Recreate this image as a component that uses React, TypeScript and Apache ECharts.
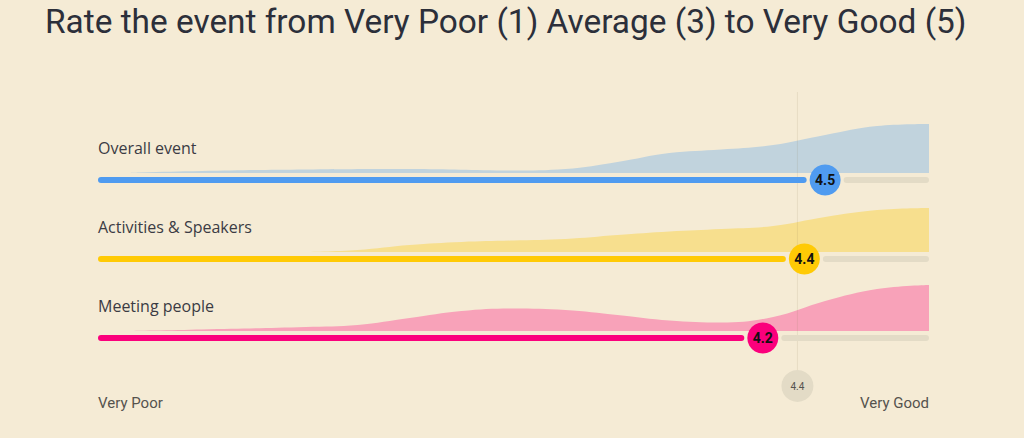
import React, { useEffect, useRef } from 'react';
import * as echarts from 'echarts';

const TITLE = 'Rate the event from Very Poor (1) Average (3) to Very Good (5)';
const CATEGORIES = ['Overall event', 'Activities & Speakers', 'Meeting people'];
const AVERAGES = [4.5, 4.4, 4.2];
const SCALE_LABELS = ['Very Poor', 'Very Good'];
const SCALE_MIN = 1;
const SCALE_MAX = 5;

// distribution of answers along the 1..5 scale: [score, relative density]
const OVERALL_DIST = [
  [1.15, 0], [1.2, 0.5], [1.5, 2], [2.0, 3.5], [2.5, 4], [3.0, 2.5], [3.25, 4], [3.5, 11],
  [3.75, 20], [4.0, 23.5], [4.25, 28], [4.5, 38], [4.75, 47], [5.0, 49],
];
const ACTIVITIES_DIST = [
  [2.0, 0], [2.25, 2], [2.5, 7], [2.75, 10], [3.0, 11.5], [3.25, 13], [3.5, 17],
  [3.75, 20.5], [4.0, 23], [4.25, 26], [4.5, 35], [4.75, 42], [5.0, 44],
];
const MEETING_DIST = [
  [1.15, 0], [1.5, 1.5], [2.0, 4], [2.25, 6], [2.5, 13], [2.75, 20], [3.0, 22.5], [3.25, 21],
  [3.5, 16], [3.75, 10.5], [4.0, 8.5], [4.25, 14], [4.5, 30], [4.75, 42], [5.0, 46],
];
const DISTRIBUTIONS = [OVERALL_DIST, ACTIVITIES_DIST, MEETING_DIST];

const BG = '#f5ebd5';
const BAR_COLORS = ['#4f9bf0', '#ffca05', '#fb007c'];
const AREA_COLORS = ['#c1d3dd', '#f7df8e', '#f8a2b9'];
const TRACK = '#e3dbc6';

const LEFT = 98;
const RIGHT = 95;
const ROW_TOPS = [123, 202, 281];
const ROW_H = 50;

export default function App() {
  const ref = useRef<HTMLDivElement>(null);
  useEffect(() => {
    if (!ref.current) return;
    const chart = echarts.init(ref.current, undefined, { renderer: 'svg' });
    const mean = AVERAGES.reduce((a, b) => a + b, 0) / AVERAGES.length;

    const grids: any[] = ROW_TOPS.map((t) => ({ left: LEFT, right: RIGHT, top: t, height: ROW_H }));
    grids.push({ left: LEFT, right: RIGHT, top: 92, height: 294 });

    const xAxes = grids.map((_, i) => ({ type: 'value', gridIndex: i, min: SCALE_MIN, max: SCALE_MAX, show: false }));
    const yAxes = grids.map((_, i) => ({ type: 'value', gridIndex: i, min: 0, max: i < 3 ? ROW_H : 1, show: false }));

    const series: any[] = [];
    DISTRIBUTIONS.forEach((d, i) => {
      series.push({
        type: 'line',
        xAxisIndex: i,
        yAxisIndex: i,
        data: d,
        smooth: 0.4,
        symbol: 'none',
        lineStyle: { width: 0 },
        areaStyle: { color: AREA_COLORS[i], opacity: 1 },
        z: 1,
        silent: true,
      });
    });

    AVERAGES.forEach((avg, i) => {
      series.push({
        type: 'custom',
        xAxisIndex: i,
        yAxisIndex: i,
        data: [[avg, 0]],
        z: 3,
        clip: false,
        renderItem: (params: any, api: any) => {
          const v = api.value(0);
          const c = api.coord([v, 0]);
          const x0 = api.coord([SCALE_MIN, 0])[0];
          const x1 = api.coord([SCALE_MAX, 0])[0];
          const y = c[1] + 7;
          const r = 15.5;
          const gap = 3;
          const w = 6;
          return {
            type: 'group',
            children: [
              {
                type: 'line',
                shape: { x1: c[0] + r + gap + w / 2, y1: y, x2: x1 - w / 2, y2: y },
                style: { stroke: TRACK, lineWidth: w, lineCap: 'round' },
              },
              {
                type: 'line',
                shape: { x1: x0 + w / 2, y1: y, x2: c[0] - r - gap - w / 2, y2: y },
                style: { stroke: BAR_COLORS[i], lineWidth: w, lineCap: 'round' },
              },
              { type: 'circle', shape: { cx: c[0], cy: y, r }, style: { fill: BAR_COLORS[i] } },
              {
                type: 'text',
                x: c[0],
                y: y,
                style: {
                  text: v.toFixed(1),
                  fill: '#111111',
                  fontSize: 14,
                  fontWeight: 'bold',
                  fontFamily: 'Roboto',
                  align: 'center',
                  verticalAlign: 'middle',
                },
              },
            ],
          };
        },
      });
    });

    series.push({
      type: 'custom',
      xAxisIndex: 3,
      yAxisIndex: 3,
      data: [[mean, 0]],
      z: 2,
      clip: false,
      renderItem: (params: any, api: any) => {
        const v = api.value(0);
        const bottom = api.coord([v, 0]);
        const top = api.coord([v, 1]);
        return {
          type: 'group',
          children: [
            {
              type: 'line',
              shape: { x1: top[0], y1: top[1], x2: bottom[0], y2: bottom[1] },
              style: { stroke: 'rgba(140,120,80,0.13)', lineWidth: 1 },
            },
            { type: 'circle', shape: { cx: bottom[0], cy: bottom[1], r: 16 }, style: { fill: TRACK } },
            {
              type: 'text',
              x: bottom[0],
              y: bottom[1],
              style: {
                text: v.toFixed(1),
                fill: '#55534e',
                fontSize: 10,
                fontFamily: 'Roboto',
                align: 'center',
                verticalAlign: 'middle',
              },
            },
          ],
        };
      },
    });

    const graphics: any[] = [
      {
        type: 'text',
        x: 45,
        y: 21,
        style: {
          text: TITLE,
          fill: '#2c2f3a',
          fontSize: 33.4,
          fontFamily: 'Roboto',
          fontWeight: 'normal',
          verticalAlign: 'middle',
        },
      },
    ];
    CATEGORIES.forEach((c, i) => {
      graphics.push({
        type: 'text',
        x: LEFT,
        y: ROW_TOPS[i] + 25,
        style: { text: c, fill: '#3b3b44', fontSize: 16, fontFamily: 'Open Sans', verticalAlign: 'middle' },
      });
    });
    graphics.push({
      type: 'text',
      x: LEFT,
      y: 403,
      style: { text: SCALE_LABELS[0], fill: '#55534e', fontSize: 15, fontFamily: 'Roboto', verticalAlign: 'middle' },
    });
    graphics.push({
      type: 'text',
      x: 1024 - RIGHT,
      y: 403,
      style: { text: SCALE_LABELS[1], fill: '#55534e', fontSize: 15, fontFamily: 'Roboto', align: 'right', verticalAlign: 'middle' },
    });

    chart.setOption({
      animation: false,
      backgroundColor: BG,
      grid: grids,
      xAxis: xAxes,
      yAxis: yAxes,
      series,
      graphic: graphics,
    });
    return () => chart.dispose();
  }, []);
  return <div ref={ref} style={{ position: 'fixed', left: 0, top: 0, width: 1024, height: 438 }} />;
}
